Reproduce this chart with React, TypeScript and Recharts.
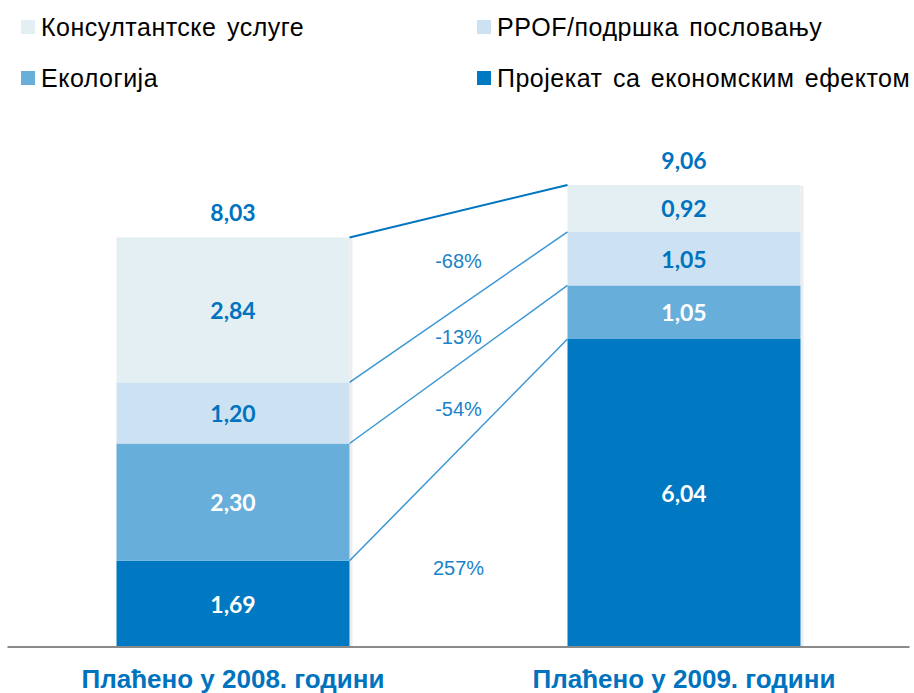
import React from 'react';
import { BarChart, Bar, XAxis, YAxis, LabelList, Legend } from 'recharts';

// ---- data ----
const categories = ['Плаћено у 2008. години', 'Плаћено у 2009. години'];
const projectValues = [1.69, 6.04];
const ecologyValues = [2.30, 1.05];
const ppofValues = [1.20, 1.05];
const consultValues = [2.84, 0.92];
const totals = [8.03, 9.06];
const projectChange = '257%';
const ecologyChange = '-54%';
const ppofChange = '-13%';
const consultChange = '-68%';

// ---- layout / style ----
const W = 914;
const H = 693;
const LEGEND_H = 100;
const MARGIN = { top: 137 - LEGEND_H, right: 4.5, bottom: 0, left: 7.5 };
const BAND = (W - MARGIN.left - MARGIN.right) / categories.length;
const TEXT_BLUE = '#0073BF';

type S = { key: string; name: string; values: number[]; change: string; color: string; text: string; line: string; lineW: number };
const series: S[] = [
  { key: 'project', name: 'Пројекат са економским ефектом', values: projectValues, change: projectChange, color: '#0079C2', text: '#FFFFFF', line: '#3A97D3', lineW: 1.5 },
  { key: 'ecology', name: 'Екологија', values: ecologyValues, change: ecologyChange, color: '#67AEDB', text: '#FFFFFF', line: '#3A97D3', lineW: 1.5 },
  { key: 'ppof', name: 'PPOF/подршка пословању', values: ppofValues, change: ppofChange, color: '#CCE2F2', text: TEXT_BLUE, line: '#3A97D3', lineW: 1.5 },
  { key: 'consult', name: 'Консултантске услуге', values: consultValues, change: consultChange, color: '#E3EFF2', text: TEXT_BLUE, line: '#0075C0', lineW: 2 },
];
const legendOrder = ['consult', 'ppof', 'ecology', 'project'];

const data = categories.map((c, i) => {
  const row: any = { cat: c };
  series.forEach((s) => (row[s.key] = s.values[i]));
  return row;
});

const cum = (si: number, ci: number) => series.slice(0, si + 1).reduce((a, s) => a + s.values[ci], 0);
const fmt = (v: number) => v.toFixed(2).replace('.', ',');

const makeShape = (si: number) => (props: any) => {
  const { x, y, width, height, index } = props;
  const s = series[si];
  const els: any[] = [];
  els.push(<rect key="sh" x={x + width} y={y + 1} width={3} height={height} fill="#000" fillOpacity={0.07} />);
  els.push(<rect key="r" x={x} y={y} width={width} height={height} fill={s.color} />);
  if (index === 1) {
    const v = s.values[1];
    const ppu = height / v;
    const bottom = y + height + (cum(si, 1) - v) * ppu;
    const leftTop = bottom - cum(si, 0) * ppu;
    const leftBot = bottom - (cum(si, 0) - s.values[0]) * ppu;
    const lx = x - BAND + width;
    els.push(<line key="l" x1={lx} y1={leftTop} x2={x} y2={y} stroke={s.line} strokeWidth={s.lineW} />);
    const topMid = (leftTop + y) / 2;
    const botMid = (leftBot + y + height) / 2;
    const f = si === 0 ? 0.6 : 0.52;
    els.push(
      <text key="t" x={(lx + x) / 2} y={topMid + f * (botMid - topMid)} textAnchor="middle" dominantBaseline="central"
        fontFamily="'Liberation Sans', Arial, sans-serif" fontSize={20} fill="#1A82C8">{s.change}</text>
    );
  }
  return <g>{els}</g>;
};

const makeLabel = (si: number) => (props: any) => {
  const { x, y, width, height, value } = props;
  return (
    <text x={x + width / 2} y={y + height / 2} textAnchor="middle" dominantBaseline="central"
      fontFamily="Lato, 'Open Sans', sans-serif" fontWeight={700} fontSize={23} fill={series[si].text}>{fmt(Number(value))}</text>
  );
};

const TotalLabel = (props: any) => {
  const { x, y, width, index } = props;
  return (
    <text x={x + width / 2} y={y - 25} textAnchor="middle" dominantBaseline="central"
      fontFamily="Lato, 'Open Sans', sans-serif" fontWeight={700} fontSize={23} fill={TEXT_BLUE}>{fmt(totals[index])}</text>
  );
};

const CatTick = (props: any) => {
  const { x, y, payload } = props;
  return (
    <text x={x} y={y + 24} textAnchor="middle" dominantBaseline="central"
      fontFamily="'Liberation Sans', Arial, sans-serif" fontWeight={700} fontSize={26} fill={TEXT_BLUE}>{payload.value}</text>
  );
};

const LegendContent = () => (
  <div style={{ position: 'relative', width: W, height: LEGEND_H }}>
    {legendOrder.map((k, i) => {
      const s = series.find((q) => q.key === k)!;
      const col = i % 2;
      const row = Math.floor(i / 2);
      return (
        <div key={k} style={{ position: 'absolute', left: col === 0 ? 21 : 477, top: row === 0 ? 13 : 64, height: 28, display: 'flex', alignItems: 'center', whiteSpace: 'nowrap' }}>
          <span style={{ display: 'inline-block', width: 14, height: 14, background: s.color, marginRight: 6 }} />
          <span style={{ fontFamily: "'Liberation Sans', Arial, sans-serif", fontSize: 25, letterSpacing: '0.5px', wordSpacing: '3px', color: '#000', lineHeight: '28px' }}>{s.name}</span>
        </div>
      );
    })}
  </div>
);

export default function App() {
  return (
    <div style={{ position: 'absolute', left: 0, top: 0, width: W, height: H, background: '#fff' }}>
      <BarChart width={W} height={H} data={data} margin={MARGIN}>
        <XAxis dataKey="cat" height={46} tickLine={false} axisLine={{ stroke: '#8A8A8A', strokeWidth: 2 }} tick={<CatTick />} interval={0} />
        <YAxis hide domain={[0, 10]} />
        <Legend verticalAlign="top" height={LEGEND_H} content={<LegendContent />} wrapperStyle={{ position: 'absolute', top: 0, left: 0, width: W, height: LEGEND_H }} />
        {series.map((s, si) => (
          <Bar key={s.key} dataKey={s.key} name={s.name} stackId="a" fill={s.color} barSize={233} isAnimationActive={false} shape={makeShape(si)}>
            <LabelList dataKey={s.key} content={makeLabel(si)} />
            {si === series.length - 1 ? <LabelList dataKey={s.key} content={<TotalLabel />} /> : null}
          </Bar>
        ))}
      </BarChart>
    </div>
  );
}
